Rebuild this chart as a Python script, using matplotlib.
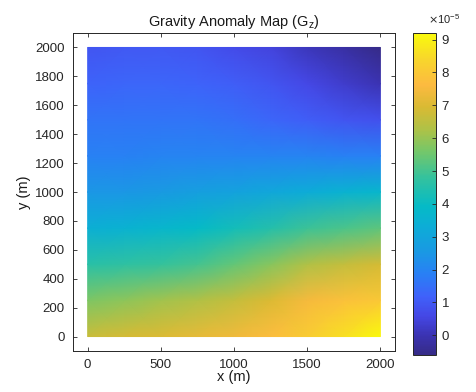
import numpy as np
import matplotlib
matplotlib.use("Agg")
import matplotlib.pyplot as plt
from matplotlib.colors import LinearSegmentedColormap

plt.rcParams['font.family'] = ['Liberation Sans', 'DejaVu Sans']

# grid positions (m)
x_pts = [0, 250, 500, 750, 1000, 1250, 1500, 1750, 2000]
y_pts = [0, 250, 500, 750, 1000, 1250, 1500, 1750, 2000]

# Gz, in units of 1e-5, one row per y value (bottom to top)
gz_y0 = [6.7, 6.9, 7.0, 7.2, 7.4, 7.7, 8.1, 8.6, 9.2]
gz_y250 = [5.7, 5.9, 6.1, 6.3, 6.6, 7.0, 7.5, 7.8, 8.0]
gz_y500 = [4.6, 4.7, 4.8, 5.0, 5.4, 5.8, 6.3, 6.6, 6.9]
gz_y750 = [3.4, 3.5, 3.7, 3.9, 4.2, 4.5, 4.9, 5.1, 5.3]
gz_y1000 = [2.5, 2.5, 2.6, 2.8, 2.9, 3.1, 3.3, 3.5, 3.7]
gz_y1250 = [1.9, 1.9, 2.0, 2.0, 2.0, 2.0, 2.0, 1.9, 1.9]
gz_y1500 = [1.6, 1.6, 1.6, 1.6, 1.5, 1.3, 1.1, 0.9, 0.8]
gz_y1750 = [1.2, 1.3, 1.3, 1.2, 1.1, 0.9, 0.6, 0.3, 0.0]
gz_y2000 = [0.9, 1.0, 1.0, 0.9, 0.7, 0.5, 0.1, -0.2, -0.6]

cbar_ticks = [0, 1, 2, 3, 4, 5, 6, 7, 8, 9]
x_ticks = [0, 500, 1000, 1500, 2000]
y_ticks = [0, 200, 400, 600, 800, 1000, 1200, 1400, 1600, 1800, 2000]

# approximate MATLAB parula
parula_stops = [
    (0.00, (0.21, 0.17, 0.53)),
    (0.06, (0.23, 0.20, 0.70)),
    (0.12, (0.27, 0.28, 0.90)),
    (0.18, (0.25, 0.38, 0.98)),
    (0.25, (0.16, 0.50, 0.96)),
    (0.32, (0.10, 0.60, 0.89)),
    (0.40, (0.05, 0.68, 0.84)),
    (0.46, (0.02, 0.73, 0.78)),
    (0.55, (0.20, 0.76, 0.62)),
    (0.63, (0.45, 0.78, 0.42)),
    (0.70, (0.68, 0.76, 0.28)),
    (0.77, (0.85, 0.73, 0.20)),
    (0.84, (0.99, 0.73, 0.25)),
    (0.92, (0.97, 0.84, 0.17)),
    (1.00, (0.98, 0.98, 0.05)),
]
parula = LinearSegmentedColormap.from_list("parula", parula_stops)

gz = np.array([gz_y0, gz_y250, gz_y500, gz_y750, gz_y1000,
               gz_y1250, gz_y1500, gz_y1750, gz_y2000])
X, Y = np.meshgrid(x_pts, y_pts)

edge = (0.15, 0.15, 0.15)
fig = plt.figure(figsize=(4.76, 3.92), dpi=100)
ax = fig.add_axes([0.1534, 0.1046, 0.6765, 0.8112])
cax = fig.add_axes([0.8676, 0.0944, 0.0483, 0.8214])

mesh = ax.pcolormesh(X, Y, gz, shading='gouraud', cmap=parula,
                     vmin=gz.min(), vmax=gz.max())
ax.set_xlim(-100, 2100)
ax.set_ylim(-100, 2100)
ax.set_xticks(x_ticks)
ax.set_yticks(y_ticks)
ax.tick_params(direction='in', top=True, right=True, length=3, width=0.6,
               labelsize=9.5, colors=edge, labelcolor='#262626', pad=6)
for s in ax.spines.values():
    s.set_color(edge)
    s.set_linewidth(0.7)
ax.set_xlabel("x (m)", fontsize=10.5, labelpad=-1, color='#1a1a1a')
ax.set_ylabel("y (m)", fontsize=10.5, labelpad=3, color='#1a1a1a')
ax.set_title("Gravity Anomaly Map (G$_\\mathregular{z}$)", fontsize=10.5,
             color='#1a1a1a', pad=5)

cb = fig.colorbar(mesh, cax=cax, ticks=cbar_ticks)
cb.outline.set_edgecolor(edge)
cb.outline.set_linewidth(0.7)
cax.tick_params(direction='in', length=3, width=0.6, labelsize=9.5,
                colors=edge, labelcolor='#262626', pad=4)
fig.text(0.900, 0.950, "$\\times$10$^{\\mathregular{-5}}$", fontsize=8,
         color='#262626', ha='left', va='center')

fig.savefig("out.png", dpi=100)
